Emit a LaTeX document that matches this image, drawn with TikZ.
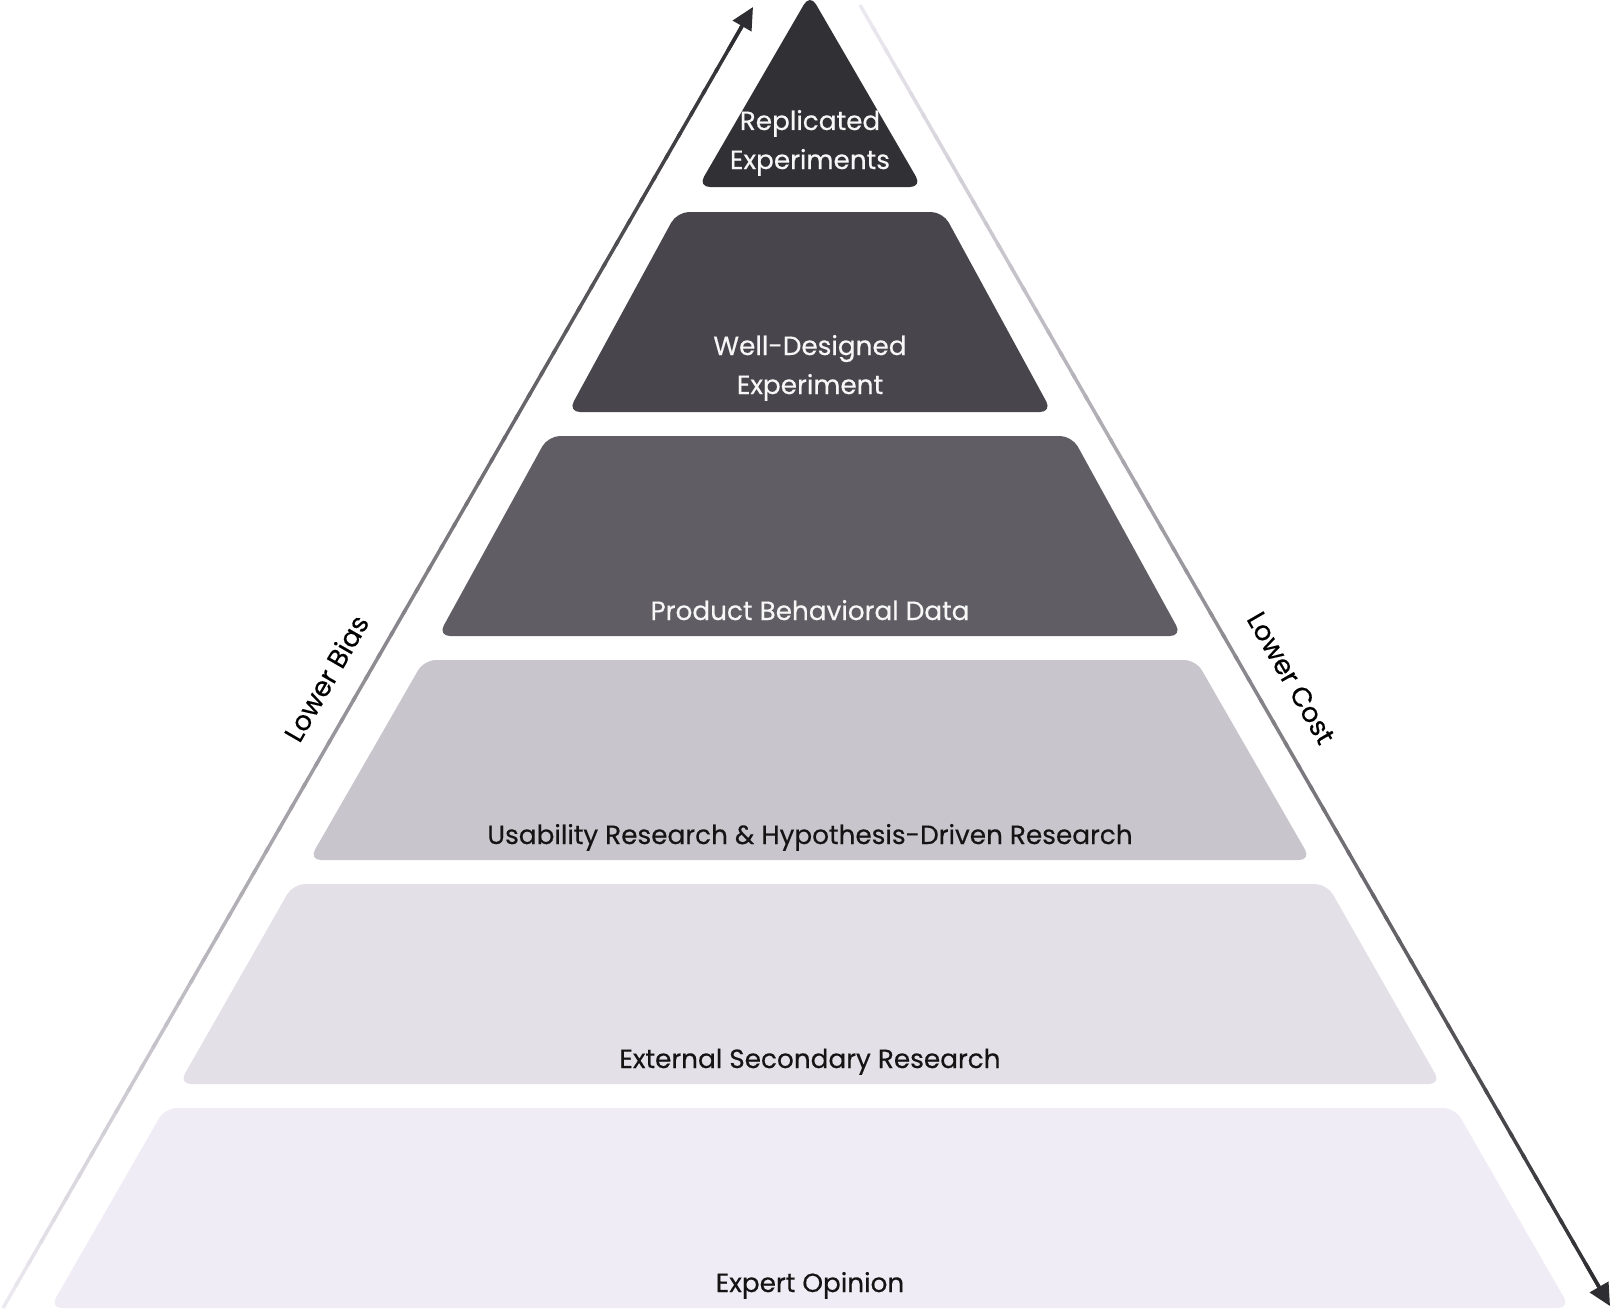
\documentclass[tikz,border=0pt]{standalone}
\usepackage{fontspec}
\setmainfont{Poppins}[FakeBold=0.4]
\usetikzlibrary{arrows.meta,calc}
\definecolor{cA}{HTML}{313035}
\definecolor{cB}{HTML}{48464C}
\definecolor{cC}{HTML}{605E64}
\definecolor{cD}{HTML}{C9C5CC}
\definecolor{cE}{HTML}{E4E0E8}
\definecolor{cF}{HTML}{F0ECF6}
\definecolor{arrdark}{HTML}{2E2D31}
\definecolor{arrlight}{HTML}{ECE8F0}
\definecolor{txtdark}{HTML}{141414}
\definecolor{txtlight}{HTML}{F7F7F7}
\tikzset{
  layer/.style={rounded corners=12pt},
  lbl/.style={font=\fontsize{26.3}{39}\selectfont, anchor=base, inner sep=0pt, align=center},
  lbllight/.style={lbl, text=txtlight},
  lbldark/.style={lbl, text=txtdark},
  sidelbl/.style={font=\fontsize{27}{30}\selectfont, text=black, inner sep=0pt},
}
\begin{document}
\begin{tikzpicture}[x=1pt,y=-1pt]
\useasboundingbox (0,0) rectangle (1612,1311);
% layers
\fill[layer,cA] (810,-6) -- (922,187) -- (698,187) -- cycle;
\fill[layer,cB] (677,212) -- (943,212) -- (1052,412) -- (568,412) -- cycle;
\fill[layer,cC] (548,436) -- (1072,436) -- (1182,636) -- (438,636) -- cycle;
\fill[layer,cD] (424,660) -- (1196,660) -- (1311,860) -- (309,860) -- cycle;
\fill[layer,cE] (293,884) -- (1327,884) -- (1441,1084) -- (179,1084) -- cycle;
\fill[layer,cF] (165,1108) -- (1455,1108) -- (1570,1308) -- (50,1308) -- cycle;
% labels
\node[lbllight] (t1a) at (810,130) {Replicated};
\node[lbllight] (t1b) at (810,169) {Experiments};
\node[lbllight] (t2a) at (810,355) {Well-Designed};
\node[lbllight] (t2b) at (810,394) {Experiment};
\node[lbllight] (t3) at (810,620) {Product Behavioral Data};
\node[lbldark] (t4) at (810,844) {Usability Research \& Hypothesis-Driven Research};
\node[lbldark] (t5) at (810,1068) {External Secondary Research};
\node[lbldark] (t6) at (810,1292) {Expert Opinion};
% arrows
\coordinate (lb0) at (3,1308);
\coordinate (lb1) at (753,7);
\coordinate (lc0) at (860,5);
\coordinate (lc1) at (1610,1306);
\foreach \i in {0,...,59}{
  \pgfmathsetmacro\ta{\i/60}
  \pgfmathsetmacro\tb{min((\i+1.2)/60,0.985)}
  \pgfmathsetmacro\pc{100*\i/59}
  \draw[line width=3.5pt, color=arrdark!\pc!arrlight] ($(lb0)!\ta!(lb1)$) -- ($(lb0)!\tb!(lb1)$);
  \draw[line width=3.5pt, color=arrdark!\pc!arrlight] ($(lc0)!\ta!(lc1)$) -- ($(lc0)!\tb!(lc1)$);
}
\draw[-{Triangle[length=22pt,width=21pt]}, line width=3.5pt, arrdark] ($(lb0)!0.97!(lb1)$) -- (lb1);
\draw[-{Triangle[length=22pt,width=21pt]}, line width=3.5pt, arrdark] ($(lc0)!0.97!(lc1)$) -- (lc1);
\node[sidelbl, rotate=60] (bias) at (326,678) {Lower Bias};
\node[sidelbl, rotate=-60] (cost) at (1291,678) {Lower Cost};
\end{tikzpicture}
\end{document}
